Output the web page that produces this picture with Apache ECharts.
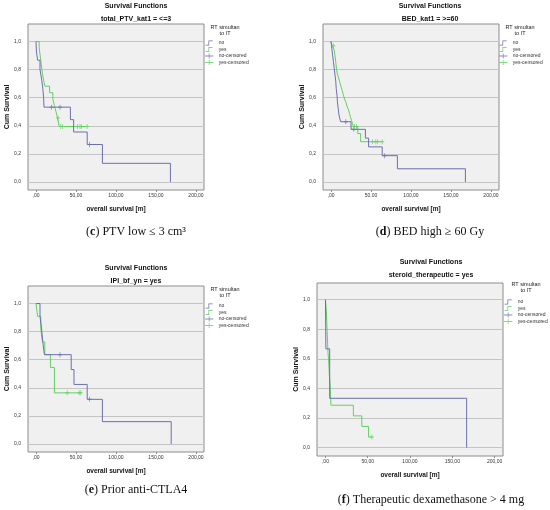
<!DOCTYPE html>
<html>
<head>
<meta charset="utf-8">
<script src="https://cdn.jsdelivr.net/npm/echarts@6/dist/echarts.min.js"></script>
<style>
  html, body { margin: 0; padding: 0; background: #fff; }
  #chart { width: 550px; height: 510px; }
</style>
</head>
<body>
<div id="chart"></div>
<script>
// tick positions
const xTicks = [0, 50, 100, 150, 200];
const yTicks = [0, 0.2, 0.4, 0.6, 0.8, 1.0];

// (c) total_PTV_kat1 = <=3   [time, survival]
const ptvNo = [[0, 1], [0.5, 0.933], [2, 0.867], [5, 0.8], [7, 0.733], [8.5, 0.667], [9.5, 0.6], [10, 0.533],
  [43, 0.444], [47, 0.356], [64, 0.267], [83, 0.133], [168, 0]];
const ptvNoCens = [[19.5, 0.533], [30, 0.533], [67, 0.267]];
const ptvYes = [[0, 1], [4, 0.955], [5, 0.909], [6, 0.864], [7, 0.818], [8, 0.773], [9.5, 0.727], [11, 0.682],
  [17, 0.636], [21, 0.591], [23, 0.545], [25, 0.5], [27, 0.455], [29, 0.395], [64, 0.395]];
const ptvYesCens = [[27.5, 0.455], [31, 0.395], [33, 0.395], [52, 0.395], [55, 0.395], [57, 0.395], [64, 0.395]];

// (d) BED_kat1 = >=60
const bedNo = [[0, 1], [1, 0.952], [2, 0.905], [3, 0.857], [4, 0.81], [5, 0.762], [6, 0.714], [6.5, 0.667],
  [7.5, 0.619], [8, 0.571], [9, 0.524], [10, 0.476], [12, 0.429], [25, 0.375], [43, 0.3125], [47, 0.25],
  [64, 0.1875], [83, 0.094], [168, 0]];
const bedNoCens = [[18.5, 0.429], [28.5, 0.375], [67, 0.1875]];
const bedYes = [[0, 1], [1.5, 0.97], [4, 0.94], [5, 0.9], [6, 0.85], [7, 0.8], [8, 0.77], [9.5, 0.74],
  [11, 0.71], [12.5, 0.68], [14, 0.65], [15.5, 0.62], [17, 0.59], [18.5, 0.57], [20, 0.54], [21.5, 0.52],
  [23, 0.49], [24.5, 0.46], [25.5, 0.44], [27, 0.415], [28, 0.395], [33.5, 0.345], [37, 0.287], [64, 0.287]];
const bedYesCens = [[3, 0.97], [29.5, 0.395], [32, 0.395], [52, 0.287], [56, 0.287], [58, 0.287], [64, 0.287]];

// (e) IPI_bf_yn = yes
const ipiNo = [[0, 1], [5, 0.909], [7, 0.818], [8.5, 0.727], [10.5, 0.636], [44, 0.53], [47.5, 0.424],
  [64, 0.318], [83, 0.159], [169, 0]];
const ipiNoCens = [[30, 0.636], [67, 0.318]];
const ipiYes = [[0, 1], [2, 0.909], [6, 0.818], [8, 0.727], [11, 0.636], [18, 0.545], [23, 0.364], [56, 0.364]];
const ipiYesCens = [[39, 0.364], [54, 0.364], [56, 0.364]];

// (f) steroid_therapeutic = yes
const sterNo = [[0, 1], [0.5, 0.667], [5, 0.333], [167, 0]];
const sterNoCens = [];
const sterYes = [[0, 1], [1, 0.929], [1.5, 0.857], [2, 0.786], [2.5, 0.714], [3, 0.643], [4, 0.571], [4.5, 0.5],
  [5.5, 0.429], [6, 0.357], [6.5, 0.286], [33, 0.214], [43, 0.143], [51, 0.071], [55, 0.071]];
const sterYesCens = [[55, 0.071]];

const BLUE = '#6b6fae';
const GREEN = '#62d062';
const SANS = '"Liberation Sans", Arial, sans-serif';
const SERIF = '"Liberation Serif", "DejaVu Serif", serif';
const PLUS = 'path://M0.4,0H0.6V0.4H1V0.6H0.6V1H0.4V0.6H0V0.4H0.4Z';
const STEP_ICON = 'path://M0,6H4V0H10V1H5V7H0Z';
const CENS_ICON = 'path://M0,3.5H10V4.5H0Z M4.5,1H5.5V7H4.5Z';

const panels = [
  { letter: 'c', sub: 'total_PTV_kat1 = <=3', caption: 'PTV low ≤ 3 cm³',
    grid: { left: 28, top: 24, width: 176, height: 166 }, yMax: 1.125, cx: 136, ty: 6,
    legend: { left: 205, top: 40 }, lt: { x: 225, y: 30 }, capY: 232,
    no: ptvNo, yes: ptvYes, noC: ptvNoCens, yesC: ptvYesCens },
  { letter: 'd', sub: 'BED_kat1 = >=60', caption: 'BED high ≥ 60 Gy',
    grid: { left: 323, top: 24, width: 176, height: 166 }, yMax: 1.125, cx: 430, ty: 6,
    legend: { left: 499, top: 40 }, lt: { x: 520, y: 30 }, capY: 232,
    no: bedNo, yes: bedYes, noC: bedNoCens, yesC: bedYesCens },
  { letter: 'e', sub: 'IPI_bf_yn = yes', caption: 'Prior anti-CTLA4',
    grid: { left: 28, top: 286, width: 176, height: 166 }, yMax: 1.125, cx: 136, ty: 268,
    legend: { left: 205, top: 303 }, lt: { x: 225, y: 292 }, capY: 490,
    no: ipiNo, yes: ipiYes, noC: ipiNoCens, yesC: ipiYesCens },
  { letter: 'f', sub: 'steroid_therapeutic = yes', caption: 'Therapeutic dexamethasone > 4 mg',
    grid: { left: 317, top: 283, width: 186, height: 173 }, yMax: 1.112, cx: 431, ty: 262,
    legend: { left: 504, top: 299 }, lt: { x: 526, y: 287 }, capY: 500,
    no: sterNo, yes: sterYes, noC: sterNoCens, yesC: sterYesCens }
];

const fmtX = v => (v === 0 ? ',00' : v.toFixed(2).replace('.', ','));
const fmtY = v => v.toFixed(1).replace('.', ',');

const grids = [], xAxes = [], yAxes = [], series = [], legends = [], texts = [];

panels.forEach((p, i) => {
  grids.push(Object.assign({ show: true, backgroundColor: '#f0f0f0', borderColor: '#8c8c8c', borderWidth: 1 }, p.grid));
  xAxes.push({
    gridIndex: i, type: 'value', min: -10, max: 210,
    axisLine: { show: false, onZero: false },
    splitLine: { show: false },
    axisTick: { show: true, customValues: xTicks, length: 2, lineStyle: { color: '#8c8c8c' } },
    axisLabel: { customValues: xTicks, formatter: fmtX, fontSize: 5, color: '#333', margin: 3, fontFamily: SANS },
    name: 'overall survival [m]', nameLocation: 'middle', nameGap: 16,
    nameTextStyle: { fontSize: 6.5, fontWeight: 'bold', color: '#111', fontFamily: SANS }
  });
  yAxes.push({
    gridIndex: i, type: 'value', min: -0.057, max: p.yMax,
    axisLine: { show: false, onZero: false },
    axisTick: { show: false, customValues: yTicks },
    splitLine: { show: true, lineStyle: { color: '#c4c4c4', width: 1 } },
    axisLabel: { customValues: yTicks, formatter: fmtY, fontSize: 5, color: '#333', margin: 7, fontFamily: SANS },
    name: 'Cum Survival', nameLocation: 'middle', nameGap: 16,
    nameTextStyle: { fontSize: 7, fontWeight: 'bold', color: '#111', fontFamily: SANS }
  });
  const common = { xAxisIndex: i, yAxisIndex: i, silent: true, animation: false };
  series.push(Object.assign({ type: 'line', name: 'no', data: p.no, step: 'end', symbol: 'none',
    lineStyle: { color: BLUE, width: 1 }, itemStyle: { color: BLUE }, z: 3 }, common));
  series.push(Object.assign({ type: 'line', name: 'yes', data: p.yes, step: 'end', symbol: 'none',
    lineStyle: { color: GREEN, width: 1 }, itemStyle: { color: GREEN }, z: 2 }, common));
  series.push(Object.assign({ type: 'scatter', name: 'no-censored', data: p.noC, symbol: PLUS, symbolSize: [4, 5],
    itemStyle: { color: BLUE }, z: 4 }, common));
  series.push(Object.assign({ type: 'scatter', name: 'yes-censored', data: p.yesC, symbol: PLUS, symbolSize: [4, 5],
    itemStyle: { color: GREEN }, z: 4 }, common));
  legends.push({
    orient: 'vertical', left: p.legend.left, top: p.legend.top, padding: 0,
    itemWidth: 9, itemHeight: 5, itemGap: 0.5, selectedMode: false,
    textStyle: { fontSize: 5, color: '#333', fontFamily: SANS, lineHeight: 6 },
    data: [
      { name: 'no', icon: STEP_ICON, itemStyle: { color: BLUE } },
      { name: 'yes', icon: STEP_ICON, itemStyle: { color: GREEN } },
      { name: 'no-censored', icon: CENS_ICON, itemStyle: { color: BLUE } },
      { name: 'yes-censored', icon: CENS_ICON, itemStyle: { color: GREEN } }
    ]
  });
  const bold = { fontSize: 7, fontWeight: 'bold', fill: '#111', fontFamily: SANS, align: 'center', verticalAlign: 'middle' };
  texts.push({ type: 'text', x: p.cx, y: p.ty, style: Object.assign({ text: 'Survival Functions' }, bold) });
  texts.push({ type: 'text', x: p.cx, y: p.ty + 13, style: Object.assign({ text: p.sub }, bold) });
  texts.push({ type: 'text', x: p.lt.x, y: p.lt.y, style: { text: 'RT simultan\nto IT', fontSize: 5.5, lineHeight: 6,
    fill: '#222', fontFamily: SANS, align: 'center', verticalAlign: 'middle' } });
  texts.push({ type: 'text', x: p.cx, y: p.capY, style: {
    text: '({b|' + p.letter + '}) ' + p.caption, fontSize: 12, fill: '#111', fontFamily: SERIF,
    align: 'center', verticalAlign: 'middle',
    rich: { b: { fontSize: 12, fontWeight: 'bold', fontFamily: SERIF, fill: '#111' } } } });
});

const chart = echarts.init(document.getElementById('chart'));
chart.setOption({
  animation: false,
  backgroundColor: '#fff',
  grid: grids,
  xAxis: xAxes,
  yAxis: yAxes,
  legend: legends,
  series: series,
  graphic: texts
});
</script>
</body>
</html>
